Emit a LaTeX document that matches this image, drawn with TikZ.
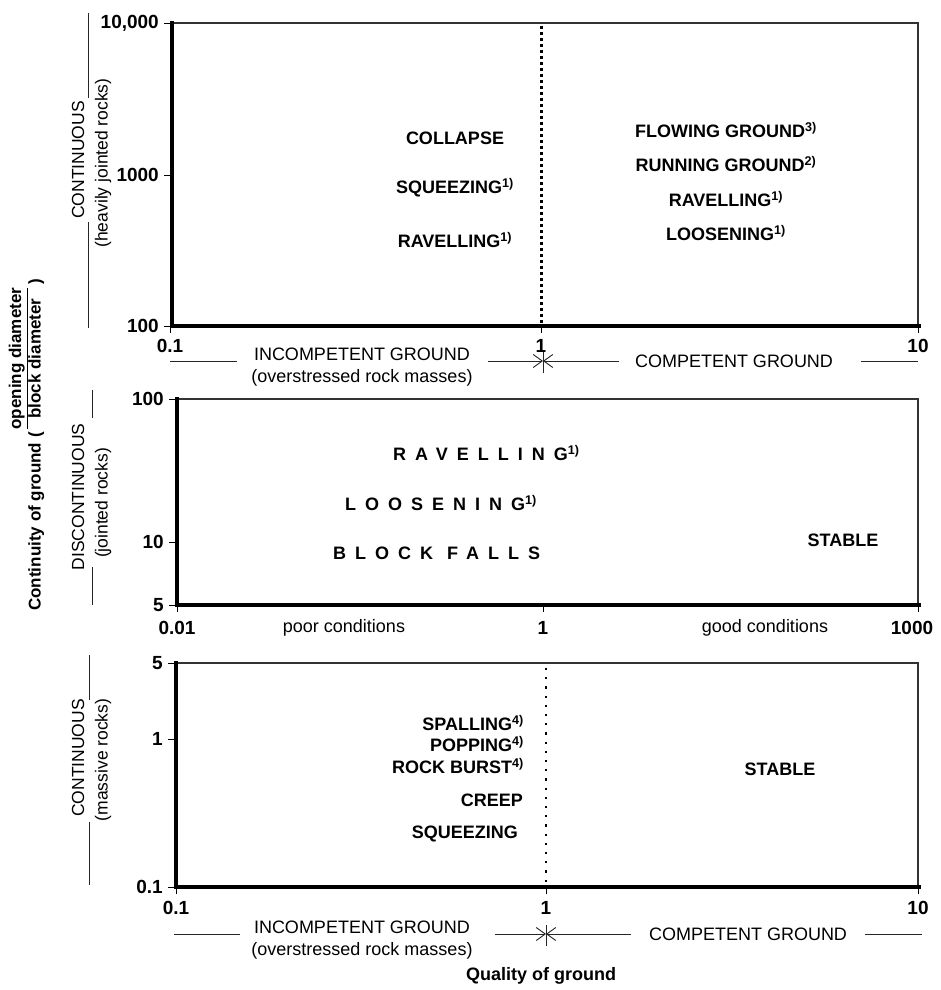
\documentclass[tikz,border=0pt]{standalone}
\usepackage{fontspec}
\setmainfont{Liberation Sans}
\usetikzlibrary{arrows.meta}
\newcommand{\fnote}[1]{\textsuperscript{#1)}}
\newcommand{\spaced}[1]{{\addfontfeature{LetterSpace=50}#1}}
\begin{document}
\begin{tikzpicture}[x=1pt,y=-1pt,
    thinax/.style={line width=1.3pt,black!80},
    thickax/.style={line width=3.6pt},
    tickmark/.style={line width=0.9pt},
    legend/.style={line width=0.9pt,black!85},
    barb/.style={-{Straight Barb[length=9pt,width=13pt,line width=0.9pt]}},
    num/.style={font=\fontsize{19}{22}\selectfont\bfseries,inner sep=0pt},
    zone/.style={font=\fontsize{18}{21}\selectfont\bfseries,inner sep=0pt},
    axtext/.style={font=\fontsize{18}{22}\selectfont,inner sep=0pt,align=center},
    vtext/.style={font=\fontsize{17.5}{20}\selectfont,inner sep=0pt,rotate=90}]
  \fill[white] (0,0) rectangle (941,990);
  \useasboundingbox (0,0) rectangle (941,990);

  % ---------- upper panel ----------
  \draw[thinax] (172,23) -- (918,23) -- (918,326);
  \draw[thickax] (172,21) -- (172,328);
  \draw[thickax] (170,326) -- (921,326);
  \draw[line width=3pt,dash pattern=on 3pt off 3pt] (541,26) -- (541,324);
  \foreach \y/\t in {23/{10,000},175/1000,326/100}{
    \draw[tickmark] (164,\y) -- (172,\y);
    \node[num,anchor=east] (ya\y) at (159,\y) {\t};
  }
  \foreach \x/\t in {170/0.1,541/1,918/10}{
    \draw[tickmark] (\x,326) -- (\x,333);
    \node[num] (xa\x) at (\x,346) {\t};
  }
  % Labels
  \node[zone] (collapse) at (455,138) {COLLAPSE};
  \node[zone] (squeeze1) at (455,188) {SQUEEZING\fnote{1}};
  \node[zone] (ravel1) at (455,240) {RAVELLING\fnote{1}};
  \node[zone] (flowing) at (726,130) {FLOWING GROUND\fnote{3}};
  \node[zone] (running) at (726,164) {RUNNING GROUND\fnote{2}};
  \node[zone] (ravel2) at (726,199) {RAVELLING\fnote{1}};
  \node[zone] (loosen1) at (726,233) {LOOSENING\fnote{1}};
  % legend
  \node[axtext] (incomp1) at (362,367) {INCOMPETENT GROUND\\(overstressed rock masses)};
  \node[axtext] (comp1) at (734,361) {COMPETENT GROUND};
  \coordinate (star1) at (543,361);
  \draw[legend] (170,361) -- (237,361);
  \draw[legend,barb] (488,361) -- (star1);
  \draw[legend,barb] (619,361) -- (star1);
  \draw[legend] (861,361) -- (918,361);
  \draw[legend] (543,352) -- (543,373);
  \node[vtext] (cont1) at (78,160) {CONTINUOUS};
  \node[vtext] (heavy) at (103,163) {(heavily jointed rocks)};
  \draw[legend] (88,13) -- (88,98);
  \draw[legend] (88,222) -- (88,328);

  % ---------- middle panel ----------
  \draw[thinax] (177,399) -- (918,399) -- (918,605);
  \draw[thickax] (177,397) -- (177,607);
  \draw[thickax] (175,605) -- (921,605);
  \foreach \y/\t in {399/100,542/10,605/5}{
    \draw[tickmark] (169,\y) -- (177,\y);
    \node[num,anchor=east] (yb\y) at (164,\y) {\t};
  }
  \foreach \x/\t in {177/0.01,543/1,912/1000}{
    \node[num] (xb\x) at (\x,628) {\t};
  }
  \draw[tickmark] (177,605) -- (177,612);
  \draw[tickmark] (543,605) -- (543,612);
  \draw[tickmark] (918,605) -- (918,612);
  \node[axtext] (poor) at (344,628) {poor conditions};
  \node[axtext] (good) at (765,628) {good conditions};
  % Labels
  \node[zone,anchor=west] (ravel3) at (393,453) {\spaced{RAVELLING}\fnote{1}};
  \node[zone,anchor=west] (loosen2) at (345,503) {\spaced{LOOSENING}\fnote{1}};
  \node[zone,anchor=west] (falls) at (333,553) {\spaced{BLOCK FALLS}};
  \node[zone] (stable1) at (843,540) {STABLE};
  \node[vtext] (discont) at (78,497) {DISCONTINUOUS};
  \node[vtext] (joint) at (103,503) {(jointed rocks)};
  \draw[legend] (92,390) -- (92,418);
  \draw[legend] (92,567) -- (92,605);

  % ---------- lower panel ----------
  \draw[thinax] (176,663) -- (918,663) -- (918,887);
  \draw[thickax] (176,661) -- (176,889);
  \draw[thickax] (174,887) -- (921,887);
  \draw[line width=2.2pt,dash pattern=on 2.2pt off 7pt] (546,668) -- (546,885);
  \foreach \y/\t in {663/5,739/1,887/0.1}{
    \draw[tickmark] (168,\y) -- (176,\y);
    \node[num,anchor=east] (yc\y) at (163,\y) {\t};
  }
  \foreach \x/\t in {176/0.1,546/1,918/10}{
    \draw[tickmark] (\x,887) -- (\x,894);
    \node[num] (xc\x) at (\x,908) {\t};
  }
  % Labels
  \node[zone,anchor=east] (spall) at (524,723) {SPALLING\fnote{4}};
  \node[zone,anchor=east] (popping) at (524,744) {POPPING\fnote{4}};
  \node[zone,anchor=east] (burst) at (524,766) {ROCK BURST\fnote{4}};
  \node[zone,anchor=east] (creep) at (523,800) {CREEP};
  \node[zone,anchor=east] (squeeze2) at (518,834) {SQUEEZING};
  \node[zone] (stable2) at (780,769) {STABLE};
  % legend
  \node[axtext] (incomp2) at (362,940) {INCOMPETENT GROUND\\(overstressed rock masses)};
  \node[axtext] (comp2) at (748,934) {COMPETENT GROUND};
  \coordinate (star2) at (546,934);
  \draw[legend] (174,934) -- (240,934);
  \draw[legend,barb] (495,934) -- (star2);
  \draw[legend,barb] (631,934) -- (star2);
  \draw[legend] (865,934) -- (922,934);
  \draw[legend] (546,925) -- (546,946);
  \node[vtext] (cont2) at (78,758) {CONTINUOUS};
  \node[vtext] (massive) at (103,760) {(massive rocks)};
  \draw[legend] (89,655) -- (89,700);
  \draw[legend] (89,822) -- (89,885);

  % ---------- axis titles ----------
  \node[rotate=90,inner sep=0pt,font=\fontsize{17}{19}\selectfont\bfseries] (ytitle) at (27,445)
    {Continuity of ground (\,\begin{tabular}[b]{@{}c@{}}opening diameter\\\hline block diameter\end{tabular}\,)};
  \node[inner sep=0pt,font=\fontsize{18}{20}\selectfont\bfseries] (xtitle) at (541,976) {Quality of ground};
\end{tikzpicture}
\end{document}
